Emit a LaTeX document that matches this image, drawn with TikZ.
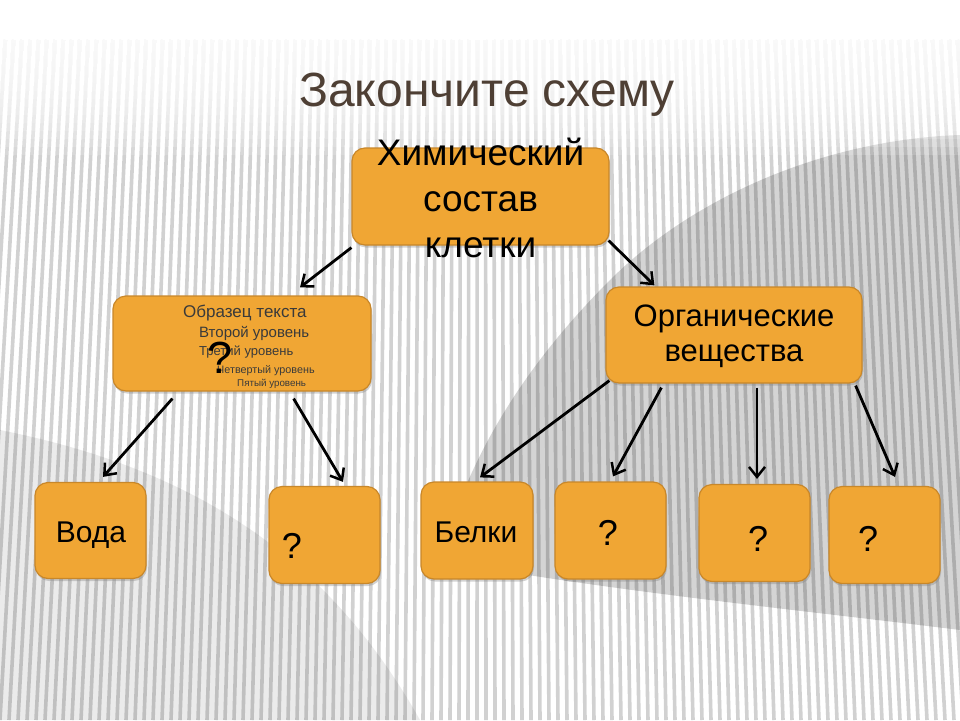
\documentclass[tikz,border=0pt]{standalone}
\usepackage{fontspec}
\setmainfont{Liberation Sans}
\usetikzlibrary{arrows.meta,shadows,calc}
\definecolor{boxfill}{HTML}{F0A634}
\definecolor{boxline}{HTML}{C8872A}
\definecolor{titlecol}{HTML}{4E3F34}
\definecolor{smalltxt}{HTML}{3A3A3A}
\tikzset{
  box/.style={draw=boxline, line width=1.2pt, fill=boxfill, rounded corners=13pt,
    inner sep=0pt, drop shadow={opacity=0.35, shadow xshift=1pt, shadow yshift=-2.5pt}},
  arr/.style={draw=black, line width=2.8pt, -{Straight Barb[length=10pt,width=16pt,line width=2.5pt]}},
  bigtxt/.style={font=\fontsize{37}{46}\selectfont, align=center, inner sep=0pt},
  midtxt/.style={font=\fontsize{31}{35}\selectfont, align=center, inner sep=0pt},
  lowtxt/.style={font=\fontsize{30}{34}\selectfont, inner sep=0pt},
  qtxt/.style={font=\fontsize{36}{36}\selectfont, inner sep=0pt},
  stripe/.style={draw=gray!36, line width=3.6pt}
}
\begin{document}
\begin{tikzpicture}[x=1pt,y=-1pt]
\useasboundingbox (0,0) rectangle (960,720);
% background
\fill[white] (0,0) rectangle (960,720);
\foreach \i in {-20,...,125}{
  \draw[stripe] ({480+(\i*9-480)*0.92},40) -- ({\i*9},720);
}
\fill[black, opacity=0.17] (960,135) .. controls (820,140) and (690,200) .. (610,280)
  .. controls (530,360) and (470,450) .. (440,560) .. controls (600,590) and (800,610) .. (960,630) -- cycle;
\fill[black, opacity=0.08] (0,430) .. controls (200,470) and (330,560) .. (420,720) -- (0,720) -- cycle;
\fill[white] (0,0) rectangle (960,35);
\foreach \i in {0,...,15}{
  \fill[white, opacity=0.16] (0,0) rectangle (960,{35+\i*8});
}
% title
\node[text=titlecol, font=\fontsize{48}{52}\selectfont, anchor=base, inner sep=0pt] (title) at (487,106)
  {Закончите схему};
% boxes
\node[box, minimum width=257pt, minimum height=97pt] (top) at (480.5,196.5) {};
\node[bigtxt] (toptext) at (480.5,198) {Химический\\состав\\клетки};
\node[box, minimum width=258pt, minimum height=95pt] (left) at (242,343.5) {};
\node[box, minimum width=256pt, minimum height=96pt] (org) at (734,335) {};
\node[midtxt] (orgtext) at (734,336) {Органические\\вещества};
\node[box, minimum width=111pt, minimum height=96pt] (voda) at (90.5,530.5) {};
\node[box, minimum width=111pt, minimum height=97pt] (q1) at (324.5,535) {};
\node[box, minimum width=112pt, minimum height=97pt] (belki) at (477,530.5) {};
\node[box, minimum width=111pt, minimum height=97pt] (q2) at (610.5,530.5) {};
\node[box, minimum width=111pt, minimum height=97pt] (q3) at (754.5,533) {};
\node[box, minimum width=111pt, minimum height=97pt] (q4) at (884.5,535) {};
% small placeholder text in the left box
\node[text=smalltxt, font=\fontsize{17}{17}\selectfont, anchor=base west, inner sep=0pt] (l1) at (183,317) {Образец текста};
\node[text=smalltxt, font=\fontsize{15}{15}\selectfont, anchor=base west, inner sep=0pt] (l2) at (199,337) {Второй уровень};
\node[text=smalltxt, font=\fontsize{13}{13}\selectfont, anchor=base west, inner sep=0pt] (l3) at (199,355) {Третий уровень};
\node[text=smalltxt, font=\fontsize{10.8}{10.8}\selectfont, anchor=base west, inner sep=0pt] (l4) at (217,373) {Четвертый уровень};
\node[text=smalltxt, font=\fontsize{9.8}{9.8}\selectfont, anchor=base west, inner sep=0pt] (l5) at (237,386) {Пятый уровень};
\node[font=\fontsize{45}{45}\selectfont, anchor=base, inner sep=0pt] (lq) at (220,373) {?};
% bottom texts
\node[lowtxt, anchor=base] (vodatext) at (91,542) {Вода};
\node[qtxt, anchor=base] (q1text) at (292,558) {?};
\node[lowtxt, anchor=base] (belkitext) at (476,542) {Белки};
\node[qtxt, anchor=base] (q2text) at (608,545) {?};
\node[qtxt, anchor=base] (q3text) at (758,551) {?};
\node[qtxt, anchor=base] (q4text) at (868,551) {?};
% connectors
\draw[arr] ([shift={(0,2)}]top.south west) -- ([shift={(58,-8)}]left.north);
\draw[arr] ([shift={(-1,-5)}]top.south east) -- ([shift={(49,-1)}]org.north west);
\draw[arr] ([shift={(60,7)}]left.south west) -- ([shift={(12.5,-5)}]voda.north);
\draw[arr] ([shift={(-78,7)}]left.south east) -- ([shift={(18.5,-4)}]q1.north);
\draw[arr] ([shift={(4,-3)}]org.south west) -- ([shift={(3,-4)}]belki.north);
\draw[arr] ([shift={(56,4)}]org.south west) -- ([shift={(2.5,-5)}]q2.north);
\draw[arr] ([shift={(23,4)}]org.south) -- ([shift={(2.5,-5)}]q3.north);
\draw[arr] ([shift={(-7,2)}]org.south east) -- ([shift={(10.5,-9)}]q4.north);
\end{tikzpicture}
\end{document}
